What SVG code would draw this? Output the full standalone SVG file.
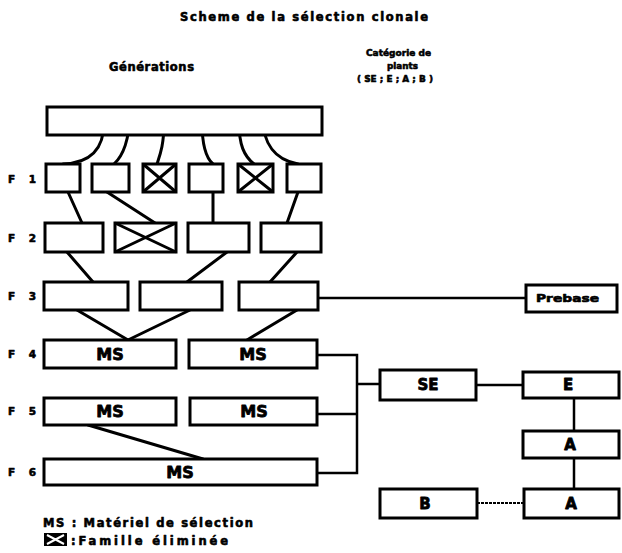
<svg xmlns="http://www.w3.org/2000/svg" width="622" height="553" viewBox="0 0 622 553">
<style>
.b{fill:#fff;stroke:#000;stroke-width:3}
.c{fill:none;stroke:#000;stroke-width:3;stroke-linecap:round}
.r{fill:none;stroke:#000;stroke-width:2.5}
.x{stroke:#000;stroke-width:3}
text{font-family:"DejaVu Sans","Liberation Sans",sans-serif;font-weight:bold;fill:#000;stroke:#000;stroke-width:0.6;stroke-linejoin:round}
.t{font-size:11.5px}
.f{font-size:10.5px}
.s{font-size:9.5px}
.ms{font-size:16px;text-anchor:middle;stroke-width:0.8}
.l{font-size:15px;text-anchor:middle;stroke-width:0.8}
</style>
<rect width="622" height="553" fill="#fff"/>
<g id="titles">
<text class="t" x="180" y="21" textLength="248" lengthAdjust="spacing">Scheme de la sélection clonale</text>
<text class="t" x="109" y="71" textLength="85" lengthAdjust="spacing">Générations</text>
<text class="s" x="366" y="56" textLength="65" lengthAdjust="spacingAndGlyphs">Catégorie de</text>
<text class="s" x="387" y="69" textLength="31" lengthAdjust="spacingAndGlyphs">plants</text>
<text class="s" x="357" y="82" textLength="76" lengthAdjust="spacingAndGlyphs">( SE ; E ; A ; B )</text>
</g>
<g id="flabels">
<text class="f" x="8" y="183" textLength="28" lengthAdjust="spacing">F 1</text>
<text class="f" x="8" y="242" textLength="28" lengthAdjust="spacing">F 2</text>
<text class="f" x="8" y="300" textLength="28" lengthAdjust="spacing">F 3</text>
<text class="f" x="8" y="358" textLength="28" lengthAdjust="spacing">F 4</text>
<text class="f" x="8" y="415" textLength="28" lengthAdjust="spacing">F 5</text>
<text class="f" x="8" y="476" textLength="28" lengthAdjust="spacing">F 6</text>
</g>
<g id="connectors">
<path class="c" d="M104,122 C104,150 90,163 63,164"/>
<path class="c" d="M130,115 C129,140 124,155 114,164"/>
<path class="c" d="M164,122 C164,145 160,155 157,164"/>
<path class="c" d="M202,122 C202,145 206,158 213,164"/>
<path class="c" d="M239,122 C239,145 244,156 254,164"/>
<path class="c" d="M262,115 C263,145 275,160 298,164"/>
<path class="c" d="M68,192 L82,223"/>
<path class="c" d="M107,192 L155,223"/>
<path class="c" d="M213,192 L213,223"/>
<path class="c" d="M298,192 L287,223"/>
<path class="c" d="M67,252 L93,282"/>
<path class="c" d="M227,252 L187,282"/>
<path class="c" d="M297,252 L270,282"/>
<path class="c" d="M77,310 L128,340"/>
<path class="c" d="M190,310 L128,340"/>
<path class="c" d="M297,310 L247,340"/>
<path class="c" d="M88,425 L203,459"/>
<path class="r" d="M318,298 H526"/>
<path class="r" d="M317,355 H357 V473 H317"/>
<path class="r" d="M317,414 H357"/>
<path class="r" d="M357,384 H380"/>
<path class="r" d="M476,385 H523"/>
<path class="r" d="M574,398 V431"/>
<path class="r" d="M574,458 V489"/>
<path d="M477,503 H524" fill="none" stroke="#000" stroke-width="2" stroke-dasharray="3,1"/>
</g>
<g id="top"><rect class="b" x="47" y="107" width="275" height="28"/></g>
<g id="f1">
<rect class="b" x="46" y="164" width="34" height="28"/>
<rect class="b" x="92" y="164" width="37" height="28"/>
<g id="f1x1"><rect class="b" x="143" y="164" width="33" height="28"/><path class="x" d="M143,164 L176,192 M176,164 L143,192"/></g>
<rect class="b" x="189" y="164" width="34" height="28"/>
<g id="f1x2"><rect class="b" x="238" y="164" width="35" height="28"/><path class="x" d="M238,164 L273,192 M273,164 L238,192"/></g>
<rect class="b" x="287" y="164" width="34" height="28"/>
</g>
<g id="f2">
<rect class="b" x="45" y="223" width="58" height="29"/>
<g id="f2x"><rect class="b" x="115" y="223" width="61" height="29"/><path class="x" d="M115,223 L176,252 M176,223 L115,252"/></g>
<rect class="b" x="188" y="223" width="61" height="29"/>
<rect class="b" x="261" y="223" width="60" height="29"/>
</g>
<g id="f3">
<rect class="b" x="44" y="282" width="84" height="28"/>
<rect class="b" x="140" y="282" width="82" height="28"/>
<rect class="b" x="239" y="282" width="79" height="28"/>
</g>
<g id="f4">
<rect class="b" x="44" y="340" width="132" height="28"/><text class="ms" x="110" y="360">MS</text>
<rect class="b" x="189" y="340" width="128" height="28"/><text class="ms" x="253" y="360">MS</text>
</g>
<g id="f5">
<rect class="b" x="44" y="398" width="132" height="27"/><text class="ms" x="110" y="417">MS</text>
<rect class="b" x="190" y="398" width="127" height="27"/><text class="ms" x="254" y="417">MS</text>
</g>
<g id="f6">
<rect class="b" x="44" y="459" width="273" height="26"/><text class="ms" x="180" y="478">MS</text>
</g>
<g id="prebase"><rect class="b" x="526" y="285" width="91" height="27"/><text class="f" x="536" y="302" textLength="63" lengthAdjust="spacingAndGlyphs">Prebase</text></g>
<g id="se"><rect class="b" x="380" y="370" width="96" height="30"/><text class="l" x="428" y="390">SE</text></g>
<g id="e"><rect class="b" x="523" y="372" width="96" height="26"/><text class="l" x="568" y="390">E</text></g>
<g id="a1"><rect class="b" x="523" y="431" width="96" height="27"/><text class="l" x="570" y="450">A</text></g>
<g id="a2"><rect class="b" x="524" y="489" width="95" height="29"/><text class="l" x="571" y="509">A</text></g>
<g id="b"><rect class="b" x="380" y="489" width="97" height="29"/><text class="l" x="425" y="509">B</text></g>
<g id="legend">
<text class="t" x="43" y="527" textLength="210" lengthAdjust="spacing">MS : Matériel de sélection</text>
<rect x="44" y="533" width="23" height="13" fill="#000"/>
<path d="M47,535 L64,544 M64,535 L47,544" stroke="#fff" stroke-width="2"/>
<text class="t" x="71" y="545" textLength="157" lengthAdjust="spacing">:Famille éliminée</text>
</g>
</svg>
